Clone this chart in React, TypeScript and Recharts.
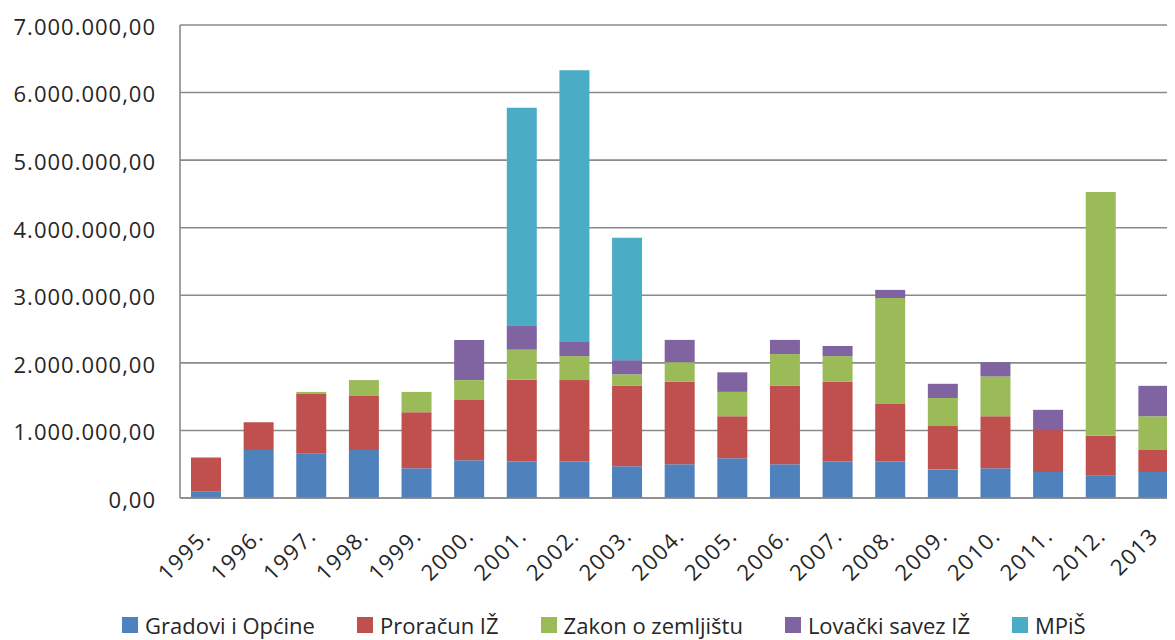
import React from "react";
import { BarChart, Bar, XAxis, YAxis, CartesianGrid, Legend } from "recharts";

const years = ["1995.", "1996.", "1997.", "1998.", "1999.", "2000.", "2001.", "2002.", "2003.", "2004.", "2005.", "2006.", "2007.", "2008.", "2009.", "2010.", "2011.", "2012.", "2013"];
const gradovi = [100000, 710000, 655000, 710000, 440000, 560000, 540000, 540000, 470000, 500000, 590000, 500000, 540000, 540000, 420000, 440000, 385000, 330000, 385000];
const proracun = [500000, 410000, 885000, 800000, 830000, 890000, 1210000, 1205000, 1190000, 1220000, 620000, 1160000, 1180000, 850000, 645000, 770000, 620000, 590000, 325000];
const zakon = [0, 0, 30000, 235000, 300000, 295000, 445000, 355000, 170000, 290000, 360000, 470000, 380000, 1570000, 415000, 590000, 0, 3610000, 500000];
const lovacki = [0, 0, 0, 0, 0, 595000, 350000, 210000, 210000, 330000, 290000, 210000, 150000, 120000, 210000, 210000, 300000, 0, 450000];
const mpis = [0, 0, 0, 0, 0, 0, 3230000, 4020000, 1810000, 0, 0, 0, 0, 0, 0, 0, 0, 0, 0];
const yTicks = [0, 1000000, 2000000, 3000000, 4000000, 5000000, 6000000, 7000000];

const series = [
  { key: "gradovi", name: "Gradovi i Općine", color: "#4F81BD" },
  { key: "proracun", name: "Proračun IŽ", color: "#C0504D" },
  { key: "zakon", name: "Zakon o zemljištu", color: "#9BBB59" },
  { key: "lovacki", name: "Lovački savez IŽ", color: "#8064A2" },
  { key: "mpis", name: "MPiŠ", color: "#4BACC6" },
];

const data = years.map((y, i) => ({
  year: y,
  gradovi: gradovi[i],
  proracun: proracun[i],
  zakon: zakon[i],
  lovacki: lovacki[i],
  mpis: mpis[i],
}));

const FONT = "'Open Sans', sans-serif";
const TEXT = "#262626";

function fmt(v: number): string {
  const s = Math.round(v).toString();
  const withDots = s.replace(/\B(?=(\d{3})+(?!\d))/g, ".");
  return withDots + ",00";
}

const XTick = (props: any) => {
  const { x, y, payload } = props;
  return (
    <g transform={`translate(${x + 6},${y + 31})`}>
      <text transform="rotate(-45)" textAnchor="end" fontSize={22} fill={TEXT} fontFamily={FONT} letterSpacing={1.5}>
        {payload.value}
      </text>
    </g>
  );
};

const LegendContent = () => (
  <div style={{ display: "flex", gap: 42, paddingLeft: 122, fontFamily: FONT, fontSize: 22, color: TEXT, lineHeight: "30px" }}>
    {series.map((s) => (
      <div key={s.key} style={{ display: "flex", alignItems: "center", gap: 7 }}>
        <span style={{ width: 16, height: 16, background: s.color, display: "inline-block" }} />
        <span>{s.name}</span>
      </div>
    ))}
  </div>
);

export default function App() {
  return (
    <div style={{ marginLeft: -8, marginTop: -8, width: 1175, height: 640, overflow: "hidden", background: "#fff" }}>
      <BarChart width={1190} height={640} data={data} margin={{ top: 25, right: 10, left: 0, bottom: 5 }} barSize={30}>
        <CartesianGrid vertical={false} stroke="#8a8a8a" strokeWidth={1.6} />
        <XAxis dataKey="year" tick={<XTick />} tickLine={false} axisLine={{ stroke: "#8a8a8a", strokeWidth: 1.6 }} height={107} interval={0} />
        <YAxis
          domain={[0, 7000000]}
          ticks={yTicks}
          tickFormatter={fmt}
          width={180}
          tickLine={false}
          tickSize={0}
          tickMargin={24}
          axisLine={{ stroke: "#8a8a8a", strokeWidth: 1.6 }}
          tick={{ fontSize: 22, fill: TEXT, fontFamily: FONT, letterSpacing: 1, dy: 2 }}
        />
        {series.map((s) => (
          <Bar key={s.key} dataKey={s.key} name={s.name} stackId="a" fill={s.color} isAnimationActive={false} />
        ))}
        <Legend verticalAlign="bottom" content={<LegendContent />} wrapperStyle={{ bottom: 0 }} />
      </BarChart>
    </div>
  );
}
